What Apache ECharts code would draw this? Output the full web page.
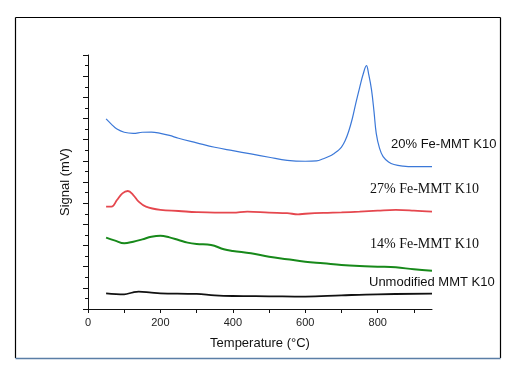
<!DOCTYPE html>
<html>
<head>
<meta charset="utf-8">
<script src="https://cdn.jsdelivr.net/npm/echarts@6/dist/echarts.min.js"></script>
<style>html,body{margin:0;padding:0;background:#fff;}#c{width:513px;height:374px;}</style>
</head>
<body>
<div id="c"></div>
<script>
// Temperature (°C) and signal (arbitrary units, offset per curve)
const blueT = [50,65,80,100,125,150,175,200,225,250,300,350,400,450,500,550,600,631,650,668,680,690,700,710,720,730,740,750,760,769,775,783,790,796,805,815,830,845,870,900,950];
const blueV = [17.96,17.45,17.0,16.7,16.6,16.7,16.72,16.6,16.4,16.13,15.7,15.28,14.96,14.65,14.34,14.05,13.96,14.0,14.2,14.45,14.7,14.95,15.3,15.9,16.8,18.0,19.5,20.9,22.2,23.0,22.2,20.7,18.6,16.6,15.2,14.4,13.9,13.65,13.5,13.45,13.45];
const redT = [50,65,80,95,110,125,140,160,200,250,300,350,400,440,500,550,580,600,650,700,750,800,850,900,950];
const redV = [9.67,9.67,10.3,10.93,11.15,10.77,10.14,9.67,9.36,9.26,9.15,9.1,9.1,9.2,9.1,9.05,8.95,9.0,9.08,9.13,9.2,9.29,9.36,9.3,9.2];
const greenT = [50,75,100,125,150,175,200,225,250,275,300,340,375,400,450,500,550,600,650,700,750,800,850,900,950];
const greenV = [6.74,6.46,6.21,6.36,6.58,6.83,6.93,6.77,6.52,6.27,6.14,6.05,5.64,5.48,5.26,4.94,4.7,4.47,4.32,4.16,4.06,4.0,3.94,3.75,3.62];
const blackT = [50,100,125,140,175,200,300,350,400,500,600,700,800,950];
const blackV = [1.48,1.39,1.58,1.64,1.54,1.48,1.42,1.29,1.23,1.2,1.17,1.29,1.39,1.45];
const xTickValues = [0,100,200,300,400,500,600,700,800,900];
const xLabelValues = [0,200,400,600,800];
const seriesNames = ['20% Fe-MMT K10','27% Fe-MMT K10','14% Fe-MMT K10','Unmodified MMT K10'];

function pairs(t, v){ return t.map((x,i)=>[x, v[i]]); }

const chart = echarts.init(document.getElementById('c'), null, {renderer:'canvas'});
const colors = ['#3b78d8','#e5474e','#17891a','#111111'];
const widths = [1.2,1.8,2,1.8];
const sets = [[blueT,blueV],[redT,redV],[greenT,greenV],[blackT,blackV]];

chart.setOption({
  animation:false,
  backgroundColor:'#fff',
  grid:{left:88, top:55, width:344, height:254},
  xAxis:{
    type:'value', min:0, max:950,
    name:'Temperature (°C)', nameLocation:'middle', nameGap:28,
    nameTextStyle:{color:'#111', fontSize:13, fontFamily:'Liberation Sans, Arial, sans-serif'},
    axisLine:{show:true, lineStyle:{color:'#111', width:1}},
    axisTick:{show:true, length:4, customValues:xTickValues, lineStyle:{color:'#111'}},
    axisLabel:{customValues:xLabelValues, color:'#222', fontSize:11, margin:8, fontFamily:'Liberation Sans, Arial, sans-serif'},
    splitLine:{show:false}
  },
  yAxis:{
    type:'value', min:0, max:24, interval:2,
    name:'Signal (mV)', nameLocation:'middle', nameGap:16,
    nameTextStyle:{color:'#111', fontSize:13, fontFamily:'Liberation Sans, Arial, sans-serif'},
    axisLine:{show:true, lineStyle:{color:'#111', width:1}},
    axisTick:{show:true, length:5, lineStyle:{color:'#111'}},
    minorTick:{show:true, splitNumber:2, length:3, lineStyle:{color:'#111'}},
    axisLabel:{show:false},
    splitLine:{show:false}
  },
  series: sets.map((s,i)=>({
    name: seriesNames[i], type:'line', data: pairs(s[0], s[1]),
    showSymbol:false, smooth:0.4, clip:false,
    lineStyle:{color:colors[i], width:widths[i]}
  })),
  graphic:[
    {type:'line', shape:{x1:15.5,y1:17.5,x2:500.5,y2:17.5}, style:{stroke:'#000',lineWidth:1.2}},
    {type:'line', shape:{x1:15.5,y1:17.5,x2:15.5,y2:358}, style:{stroke:'#000',lineWidth:1.2}},
    {type:'line', shape:{x1:500.5,y1:17.5,x2:500.5,y2:358}, style:{stroke:'#000',lineWidth:1.2}},
    {type:'line', shape:{x1:15.5,y1:358.5,x2:500.5,y2:358.5}, style:{stroke:'#5a7ea6',lineWidth:1.5}},
    {type:'text', left:391, top:138, style:{text:seriesNames[0], fill:'#111', font:'13px "Liberation Sans", Arial, sans-serif'}},
    {type:'text', left:370, top:182, style:{text:seriesNames[1], fill:'#111', font:'14px "Liberation Serif", "Times New Roman", serif'}},
    {type:'text', left:370, top:237, style:{text:seriesNames[2], fill:'#111', font:'14px "Liberation Serif", "Times New Roman", serif'}},
    {type:'text', left:369, top:276, style:{text:seriesNames[3], fill:'#111', font:'13px "Liberation Sans", Arial, sans-serif'}}
  ]
});
</script>
</body>
</html>
